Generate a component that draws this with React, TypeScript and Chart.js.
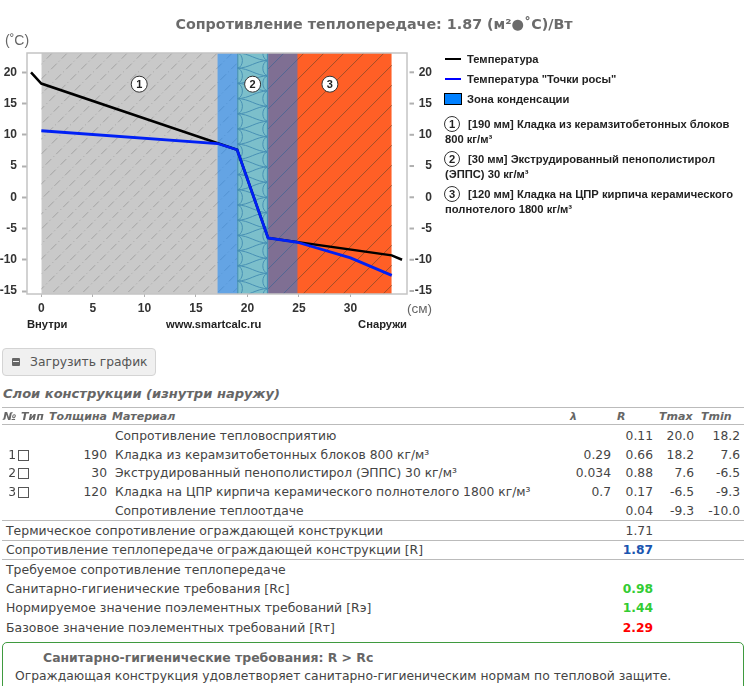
import React, { useEffect, useRef } from "react";
import { Chart, registerables } from "chart.js";

Chart.register(...registerables);

const chartTitle = "Сопротивление теплопередаче: 1.87 (м²●˚С)/Вт";
const xTicks = [0, 5, 10, 15, 20, 25, 30];
const yTicks = [-15, -10, -5, 0, 5, 10, 15, 20];
const tempX = [-1, 0, 19, 22, 34, 35];
const tempY = [20, 18.2, 7.6, -6.5, -9.3, -10];
const dewX = [0, 17.1, 19, 22, 24.85, 30, 34];
const dewY = [10.65, 8.6, 7.6, -6.5, -7.2, -9.7, -12.5];
const layerStart = [0, 19, 22];
const layerEnd = [19, 22, 34];
const layerColors = ["#c9c9c9", "#f8ff96", "#ff5f26"];
const zoneRange = [17.1, 24.85];
const markerY = 18.1;

const legendItems = [
  ["[190 мм] Кладка из керамзитобетонных блоков", "800 кг/м³"],
  ["[30 мм] Экструдированный пенополистирол", "(ЭППС) 30 кг/м³"],
  ["[120 мм] Кладка на ЦПР кирпича керамического", "полнотелого 1800 кг/м³"],
];
const legendY = [125, 160, 195];

const layerRows = [
  ["", "", "Сопротивление тепловосприятию", "", "0.11", "20.0", "18.2"],
  ["1", "190", "Кладка из керамзитобетонных блоков 800 кг/м³", "0.29", "0.66", "18.2", "7.6"],
  ["2", "30", "Экструдированный пенополистирол (ЭППС) 30 кг/м³", "0.034", "0.88", "7.6", "-6.5"],
  ["3", "120", "Кладка на ЦПР кирпича керамического полнотелого 1800 кг/м³", "0.7", "0.17", "-6.5", "-9.3"],
  ["", "", "Сопротивление теплоотдаче", "", "0.04", "-9.3", "-10.0"],
];
const rowY = [436, 454.5, 473, 492, 511];
const summaryRows: [string, string, string, number][] = [
  ["Термическое сопротивление ограждающей конструкции", "1.71", "", 531],
  ["Сопротивление теплопередаче ограждающей конструкции [R]", "1.87", "#1a55b0", 550],
  ["Требуемое сопротивление теплопередаче", "", "", 570],
  ["Санитарно-гигиенические требования [Rс]", "0.98", "#33cc33", 589],
  ["Нормируемое значение поэлементных требований [Rэ]", "1.44", "#33cc33", 608],
  ["Базовое значение поэлементных требований [Rт]", "2.29", "#ff0000", 628],
];
const ruleY = [407, 424, 519.5, 540, 559];

const ARIAL = '"Liberation Sans", Arial, sans-serif';
const VERD = '"DejaVu Sans", Verdana, sans-serif';
const TXT = "#444";
const HEAD = "#666";

const layerPlugin = {
  id: "layers",
  beforeDatasetsDraw(chart: any) {
    const { ctx, chartArea: a, scales } = chart;
    const sx = scales.x;
    ctx.save();
    ctx.beginPath();
    ctx.rect(a.left, a.top, a.right - a.left, a.bottom - a.top);
    ctx.clip();
    layerStart.forEach((s, i) => {
      const l = sx.getPixelForValue(s);
      const r = sx.getPixelForValue(layerEnd[i]);
      ctx.save();
      ctx.beginPath();
      ctx.rect(l, a.top, r - l, a.bottom - a.top);
      ctx.clip();
      ctx.fillStyle = layerColors[i];
      ctx.fillRect(l, a.top, r - l, a.bottom - a.top);
      if (i === 0 || i === 2) {
        const step = i === 0 ? 15 : 20;
        ctx.strokeStyle = i === 0 ? "#9a9a9a" : "#8a4a2a";
        ctx.lineWidth = 0.8;
        ctx.setLineDash(i === 0 ? [8, 3, 1, 3] : []);
        const h = a.bottom - a.top;
        for (let x = l - 4; x < r + h; x += step) {
          ctx.beginPath();
          ctx.moveTo(x, a.top);
          ctx.lineTo(x - h, a.bottom);
          ctx.stroke();
        }
        ctx.setLineDash([]);
      } else {
        const w = r - l;
        const P = 15.2;
        ctx.strokeStyle = "#8fa06a";
        ctx.lineWidth = 1;
        for (let y = a.top - 2 * P; y < a.bottom + P; y += P) {
          ctx.beginPath();
          ctx.moveTo(l, y);
          ctx.bezierCurveTo(l + w * 0.4, y, r - w * 0.4, y + P / 2, r, y + P / 2);
          ctx.stroke();
          ctx.beginPath();
          ctx.moveTo(r, y + P / 2);
          ctx.bezierCurveTo(r - w * 0.4, y + P / 2, l + w * 0.4, y + P, l, y + P);
          ctx.stroke();
          ctx.beginPath();
          ctx.moveTo(l, y);
          ctx.bezierCurveTo(l + 7, y + 1, l + 7, y + P - 1, l, y + P);
          ctx.stroke();
          ctx.beginPath();
          ctx.moveTo(r, y + P / 2);
          ctx.bezierCurveTo(r - 7, y + P / 2 + 1, r - 7, y + 1.5 * P - 1, r, y + 1.5 * P);
          ctx.stroke();
        }
        ctx.lineWidth = 1.4;
        ctx.beginPath();
        ctx.moveTo(l + 0.5, a.top);
        ctx.lineTo(l + 0.5, a.bottom);
        ctx.moveTo(r - 0.5, a.top);
        ctx.lineTo(r - 0.5, a.bottom);
        ctx.stroke();
      }
      ctx.restore();
    });
    const zl = sx.getPixelForValue(zoneRange[0]);
    const zr = sx.getPixelForValue(zoneRange[1]);
    ctx.fillStyle = "rgba(0,128,255,0.5)";
    ctx.fillRect(zl, a.top, zr - zl, a.bottom - a.top);
    ctx.restore();
  },
  afterDraw(chart: any) {
    const { ctx, chartArea: a, scales } = chart;
    ctx.save();
    ctx.strokeStyle = "#c4c4c4";
    ctx.lineWidth = 1.5;
    ctx.strokeRect(a.left, a.top, a.right - a.left, a.bottom - a.top);
    ctx.strokeStyle = "#b0b0b0";
    ctx.lineWidth = 2;
    scales.y2.ticks.forEach((t: any) => {
      const y = scales.y2.getPixelForValue(t.value);
      ctx.beginPath();
      ctx.moveTo(a.right + 2.5, y);
      ctx.lineTo(a.right + 7, y);
      ctx.stroke();
    });
    layerStart.forEach((s, i) => {
      const x = scales.x.getPixelForValue((s + layerEnd[i]) / 2);
      const y = scales.y.getPixelForValue(markerY);
      ctx.beginPath();
      ctx.arc(x, y, 8, 0, Math.PI * 2);
      ctx.fillStyle = "#fff";
      ctx.fill();
      ctx.strokeStyle = "#333";
      ctx.lineWidth = 1;
      ctx.stroke();
      ctx.fillStyle = "#222";
      ctx.font = `bold 11px ${ARIAL}`;
      ctx.textAlign = "center";
      ctx.textBaseline = "middle";
      ctx.fillText(String(i + 1), x, y + 0.5);
    });
    ctx.restore();
  },
};

function T({ x, y, right, style, children }: any) {
  return (
    <div
      style={{
        position: "absolute",
        top: y,
        transform: "translateY(-50%)",
        whiteSpace: "nowrap",
        lineHeight: 1.2,
        fontFamily: VERD,
        fontSize: 12.3,
        color: TXT,
        ...(right !== undefined ? { right: 748 - right } : { left: x }),
        ...style,
      }}
    >
      {children}
    </div>
  );
}

const chartFont = { family: ARIAL, size: 12, weight: "bold" as const };
const legFont = { fontFamily: ARIAL, fontSize: 11.2, fontWeight: 700, color: "#222" };

export default function App() {
  const ref = useRef<HTMLCanvasElement>(null);
  useEffect(() => {
    const toPts = (xs: number[], ys: number[]) => xs.map((x, i) => ({ x, y: ys[i] }));
    const setTicks = (vals: number[]) => (axis: any) => {
      axis.ticks = vals.map((value) => ({ value }));
    };
    const yCommon = { type: "linear", min: -15.48, max: 23.09, afterBuildTicks: setTicks(yTicks) };
    const chart = new Chart(ref.current!, {
      type: "scatter",
      data: {
        datasets: [
          { label: "Температура", order: 2, data: toPts(tempX, tempY), showLine: true, borderColor: "#000", borderWidth: 2.5, pointRadius: 0, tension: 0 },
          { label: 'Температура "Точки росы"', order: 1, data: toPts(dewX, dewY), showLine: true, borderColor: "#0020f5", borderWidth: 2.8, pointRadius: 0, tension: 0 },
        ],
      },
      options: {
        animation: false,
        responsive: false,
        layout: { padding: { top: 53, left: 0, right: 316, bottom: 0 } },
        plugins: { legend: { display: false }, tooltip: { enabled: false } },
        scales: {
          x: {
            type: "linear",
            min: -1.39,
            max: 35.48,
            afterBuildTicks: setTicks(xTicks),
            afterFit: (a: any) => { a.height = 46; },
            border: { display: false },
            grid: { drawOnChartArea: false, tickLength: 3, tickColor: "#b0b0b0" },
            ticks: { color: "#333", font: chartFont, padding: 4, maxRotation: 0, autoSkip: false, callback: (v: any) => String(v) },
          },
          y: {
            ...yCommon,
            position: "left",
            afterFit: (a: any) => { a.width = 27; },
            border: { display: false },
            grid: { drawOnChartArea: false, tickLength: 5, tickWidth: 2, tickColor: "#b0b0b0" },
            ticks: { color: "#333", font: chartFont, padding: 5, autoSkip: false, callback: (v: any) => String(v) },
          },
          y2: {
            ...yCommon,
            position: "right",
            afterFit: (a: any) => { a.width = 25; },
            border: { display: false },
            grid: { drawOnChartArea: false, tickLength: 7, tickColor: "rgba(0,0,0,0)" },
            ticks: { color: "#333", font: chartFont, padding: 0, crossAlign: "far", autoSkip: false, callback: (v: any) => String(v) },
          },
        },
      } as any,
      plugins: [layerPlugin],
    } as any);
    return () => chart.destroy();
  }, []);

  return (
    <div style={{ position: "absolute", left: 0, top: 0, width: 748, height: 686, overflow: "hidden", background: "#fff" }}>
      <canvas ref={ref} width={748} height={340} style={{ position: "absolute", left: 0, top: 0, display: "block" }} />
      <T x={0} y={25} style={{ left: 0, width: 748, textAlign: "center", fontWeight: 700, fontSize: 14.3, color: "#6b6b6b" }}>{chartTitle}</T>
      <T x={5} y={40} style={{ fontFamily: ARIAL, fontSize: 14, color: "#666" }}>(˚С)</T>
      <T x={407} y={309} style={{ fontFamily: ARIAL, fontSize: 13.5, color: "#666" }}>(см)</T>
      <T x={27} y={325} style={legFont}>Внутри</T>
      <T x={166} y={325} style={legFont}>www.smartcalc.ru</T>
      <T right={407} y={325} style={legFont}>Снаружи</T>

      <div style={{ position: "absolute", left: 445, top: 58, width: 16, height: 2, background: "#000" }} />
      <T x={467} y={60} style={legFont}>Температура</T>
      <div style={{ position: "absolute", left: 445, top: 78, width: 16, height: 2, background: "#0000ff" }} />
      <T x={467} y={80} style={legFont}>Температура "Точки росы"</T>
      <div style={{ position: "absolute", left: 444, top: 93, width: 16, height: 10, background: "#0080ff", border: "1px solid #000" }} />
      <T x={467} y={100} style={legFont}>Зона конденсации</T>
      {legendItems.map((it, i) => (
        <React.Fragment key={i}>
          <div style={{ position: "absolute", left: 444, top: legendY[i] - 9, width: 14, height: 14, borderRadius: "50%", border: "1px solid #333", textAlign: "center", lineHeight: "14px", ...legFont }}>{i + 1}</div>
          <T x={468} y={legendY[i]} style={legFont}>{it[0]}</T>
          <T x={445} y={legendY[i] + 15} style={legFont}>{it[1]}</T>
        </React.Fragment>
      ))}

      <div style={{ position: "absolute", left: 2, top: 348, width: 152, height: 26, background: "#f0f0f0", border: "1px solid #d4d4d4", borderRadius: 4 }} />
      <div style={{ position: "absolute", left: 12, top: 358, width: 8, height: 8, background: "#666", borderRadius: 1 }} />
      <div style={{ position: "absolute", left: 13, top: 361, width: 6, height: 1, background: "#f0f0f0" }} />
      <T x={30} y={362} style={{ fontSize: 12.3, color: "#555" }}>Загрузить график</T>

      <T x={3} y={394} style={{ fontWeight: 700, fontStyle: "italic", fontSize: 13.05, color: HEAD }}>Слои конструкции (изнутри наружу)</T>

      {ruleY.map((y) => (
        <div key={y} style={{ position: "absolute", left: 2, width: 742, top: y, height: 1, background: "#bbb" }} />
      ))}
      {[["№", 3], ["Тип", 21], ["Толщина", 49], ["Материал", 112], ["λ", 570], ["R", 617], ["Tmax", 659], ["Tmin", 701]].map(([s, x]) => (
        <T key={s as string} x={x} y={417} style={{ fontWeight: 700, fontStyle: "italic", fontSize: 11, color: HEAD }}>{s}</T>
      ))}
      {layerRows.map((r, i) => (
        <React.Fragment key={i}>
          {r[0] && <T right={16} y={rowY[i]}>{r[0]}</T>}
          {r[0] && <div style={{ position: "absolute", left: 18, top: rowY[i] - 5, width: 9, height: 9, border: "1px solid #555", background: "#fff" }} />}
          {r[1] && <T right={107} y={rowY[i]}>{r[1]}</T>}
          <T x={115} y={rowY[i]}>{r[2]}</T>
          {r[3] && <T right={611} y={rowY[i]}>{r[3]}</T>}
          <T right={653} y={rowY[i]}>{r[4]}</T>
          <T right={694} y={rowY[i]}>{r[5]}</T>
          <T right={740} y={rowY[i]}>{r[6]}</T>
        </React.Fragment>
      ))}
      {summaryRows.map(([label, val, color, y]) => (
        <React.Fragment key={label}>
          <T x={6} y={y} style={{ fontSize: 12.45 }}>{label}</T>
          {val && <T right={653} y={y} style={color ? { fontWeight: 700, color } : undefined}>{val}</T>}
        </React.Fragment>
      ))}
      <div style={{ position: "absolute", left: 2, top: 642, width: 740, height: 60, border: "1px solid #3f9a3f", borderRadius: 5 }} />
      <T x={43} y={658} style={{ fontWeight: 700, fontSize: 12.45, color: "#666" }}>Санитарно-гигиенические требования: R &gt; Rс</T>
      <T x={15} y={676} style={{ fontSize: 12.35 }}>Ограждающая конструкция удовлетворяет санитарно-гигиеническим нормам по тепловой защите.</T>
    </div>
  );
}
